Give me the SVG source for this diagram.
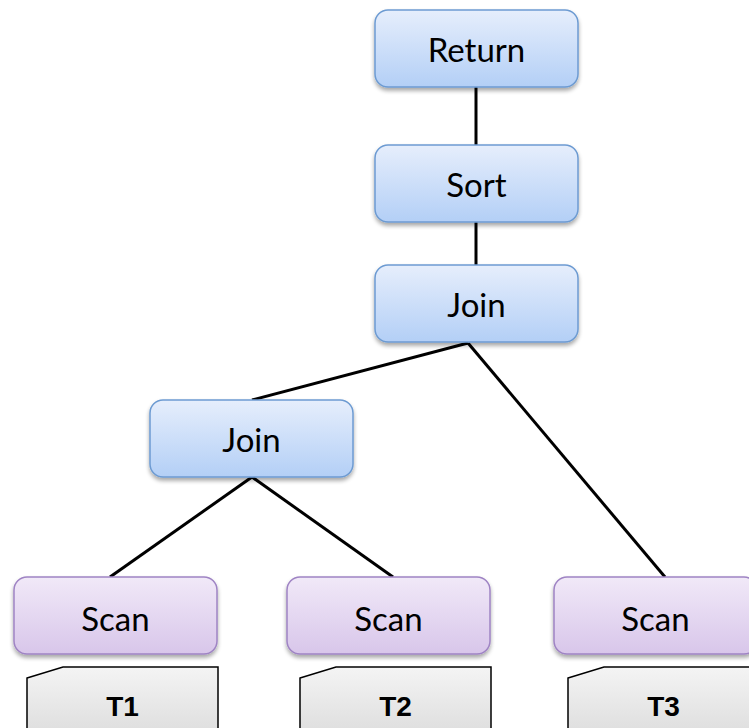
<svg xmlns="http://www.w3.org/2000/svg" width="749" height="728" viewBox="0 0 749 728">
  <defs>
    <linearGradient id="gBlue" x1="0" y1="0" x2="0" y2="1">
      <stop offset="0" stop-color="#e6eefc"/>
      <stop offset="1" stop-color="#b3cff6"/>
    </linearGradient>
    <linearGradient id="gPurple" x1="0" y1="0" x2="0" y2="1">
      <stop offset="0" stop-color="#f1e9f8"/>
      <stop offset="1" stop-color="#d8c6ea"/>
    </linearGradient>
    <linearGradient id="gGray" x1="0" y1="0" x2="0" y2="1">
      <stop offset="0" stop-color="#f4f4f4"/>
      <stop offset="1" stop-color="#dcdcdc"/>
    </linearGradient>
    <filter id="shadow" x="-10%" y="-10%" width="120%" height="130%">
      <feGaussianBlur in="SourceAlpha" stdDeviation="2"/>
      <feOffset dx="0" dy="3" result="b"/>
      <feComponentTransfer><feFuncA type="linear" slope="0.35"/></feComponentTransfer>
      <feMerge><feMergeNode/><feMergeNode in="SourceGraphic"/></feMerge>
    </filter>
  </defs>
  <style>
    .op { fill: url(#gBlue); stroke: #6d9bd2; stroke-width: 1.5; filter: url(#shadow); }
    .scan { fill: url(#gPurple); stroke: #9f84c4; stroke-width: 1.5; filter: url(#shadow); }
    .doc { fill: url(#gGray); stroke: #000; stroke-width: 1.5; }
    .lbl { font-family: Lato, "Open Sans", "Liberation Sans", sans-serif; font-size: 33px; fill: #000; text-anchor: middle; }
    .tbl { font-family: "Liberation Sans", Lato, sans-serif; font-size: 28px; font-weight: bold; fill: #000; text-anchor: middle; }
    .edge { stroke: #000; stroke-width: 3; fill: none; }
  </style>

  <g id="connectors">
    <line class="edge" x1="476" y1="87" x2="476" y2="145"/>
    <line class="edge" x1="476" y1="222" x2="476" y2="265"/>
    <line class="edge" x1="468" y1="343" x2="252" y2="400"/>
    <line class="edge" x1="468" y1="343" x2="665" y2="577"/>
    <line class="edge" x1="252" y1="477" x2="110" y2="577"/>
    <line class="edge" x1="252" y1="477" x2="393" y2="577"/>
  </g>

  <g id="return">
    <rect class="op" x="375" y="10" width="203" height="77" rx="13"/>
    <text class="lbl" x="476.5" y="62">Return</text>
  </g>
  <g id="sort">
    <rect class="op" x="375" y="145" width="203" height="77" rx="13"/>
    <text class="lbl" x="476.5" y="197">Sort</text>
  </g>
  <g id="join-top">
    <rect class="op" x="375" y="265" width="203" height="77" rx="13"/>
    <text class="lbl" x="476.5" y="317">Join</text>
  </g>
  <g id="join-left">
    <rect class="op" x="150" y="400" width="203" height="77" rx="13"/>
    <text class="lbl" x="251.5" y="452">Join</text>
  </g>
  <g id="scan-1">
    <rect class="scan" x="14" y="577" width="203" height="77" rx="13"/>
    <text class="lbl" x="115.5" y="631">Scan</text>
  </g>
  <g id="scan-2">
    <rect class="scan" x="287" y="577" width="203" height="77" rx="13"/>
    <text class="lbl" x="388.5" y="631">Scan</text>
  </g>
  <g id="scan-3">
    <rect class="scan" x="554" y="577" width="203" height="77" rx="13"/>
    <text class="lbl" x="655.5" y="631">Scan</text>
  </g>

  <g id="table-t1">
    <path class="doc" d="M27,678 L63,667 L218,667 L218,740 L27,740 Z"/>
    <text class="tbl" x="122.5" y="716">T1</text>
  </g>
  <g id="table-t2">
    <path class="doc" d="M300,678 L336,667 L491,667 L491,740 L300,740 Z"/>
    <text class="tbl" x="395.5" y="716">T2</text>
  </g>
  <g id="table-t3">
    <path class="doc" d="M568,678 L604,667 L759,667 L759,740 L568,740 Z"/>
    <text class="tbl" x="663.5" y="716">T3</text>
  </g>
</svg>
